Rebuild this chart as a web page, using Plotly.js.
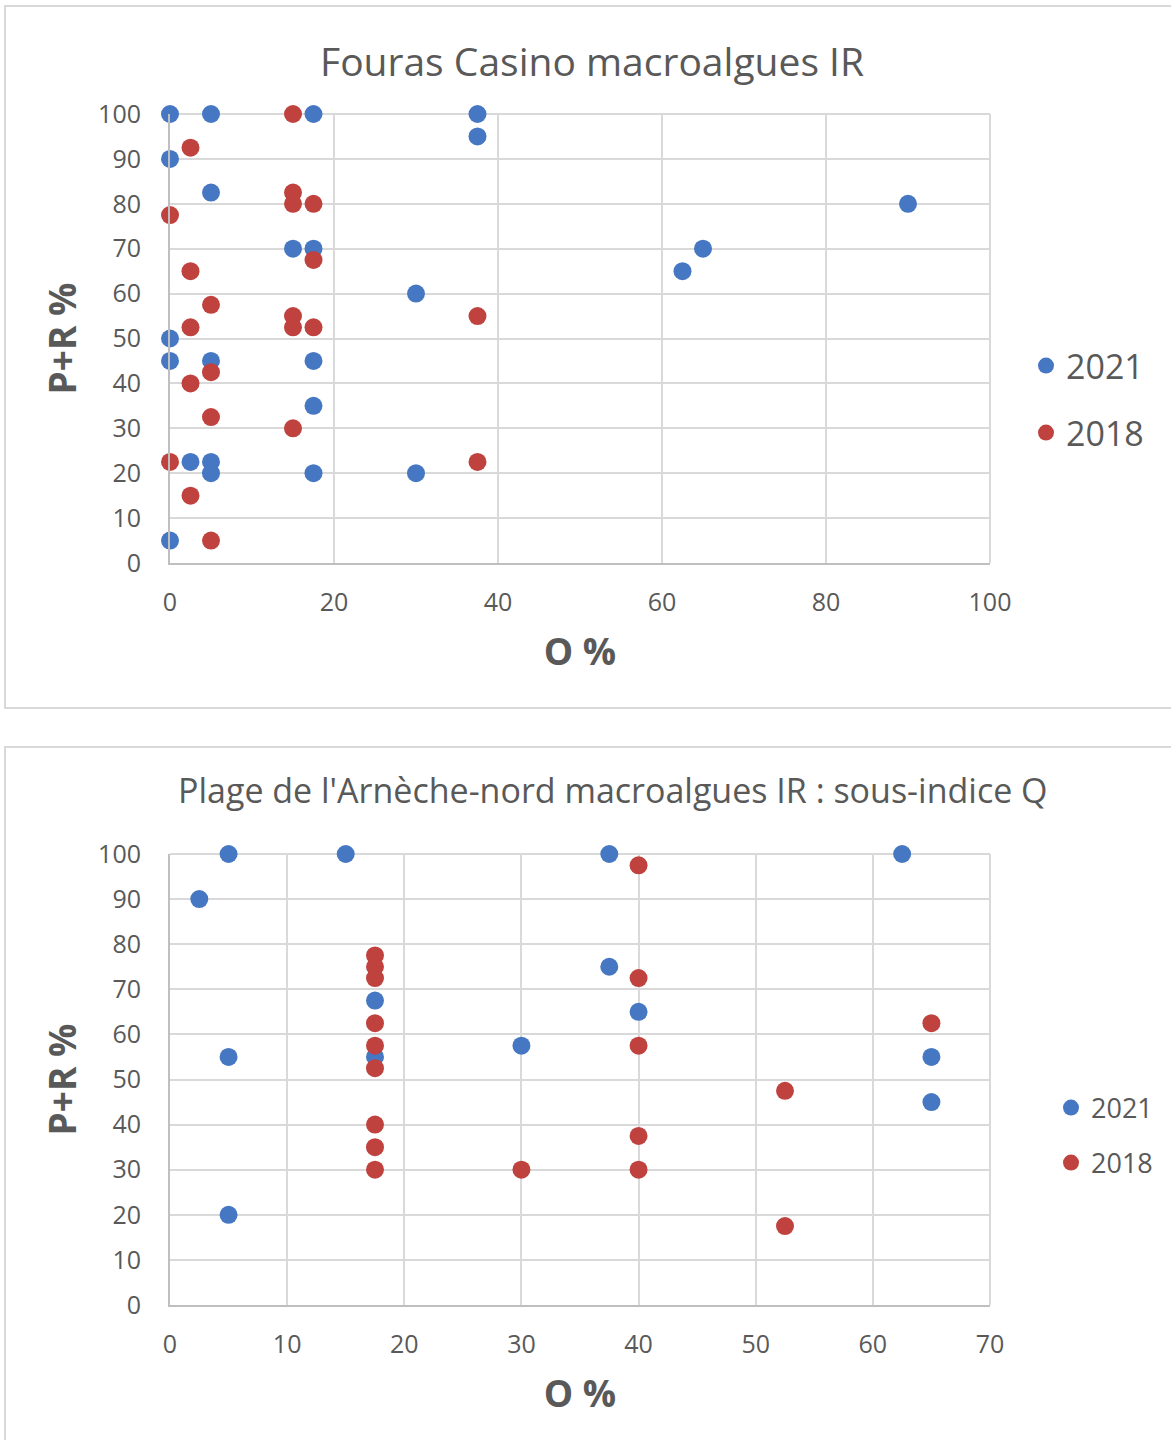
<!DOCTYPE html>
<html>
<head>
<meta charset="utf-8">
<script src="https://cdn.plot.ly/plotly-3.0.1.min.js"></script>
<style>html,body{margin:0;padding:0;background:#fff;}#chart{width:1171px;height:1440px;}</style>
</head>
<body>
<div id="chart"></div>
<script>
// Chart 1: Fouras Casino
const top2021X = [0, 5, 17.5, 37.5, 37.5, 0, 5, 15, 17.5, 30, 0, 0, 5, 17.5, 17.5, 2.5, 5, 5, 17.5, 30, 0, 90, 65, 62.5];
const top2021Y = [100, 100, 100, 100, 95, 90, 82.5, 70, 70, 60, 50, 45, 45, 45, 35, 22.5, 22.5, 20, 20, 20, 5, 80, 70, 65];
const top2018X = [15, 2.5, 15, 15, 17.5, 0, 17.5, 2.5, 5, 37.5, 15, 15, 2.5, 17.5, 5, 2.5, 5, 15, 0, 37.5, 2.5, 5];
const top2018Y = [100, 92.5, 82.5, 80, 80, 77.5, 67.5, 65, 57.5, 55, 55, 52.5, 52.5, 52.5, 42.5, 40, 32.5, 30, 22.5, 22.5, 15, 5];
// Chart 2: Plage de l'Arnèche-nord
const bot2021X = [5, 15, 2.5, 17.5, 17.5, 5, 30, 5, 37.5, 62.5, 37.5, 40, 65, 65];
const bot2021Y = [100, 100, 90, 67.5, 55, 55, 57.5, 20, 100, 100, 75, 65, 55, 45];
const bot2018X = [17.5, 17.5, 17.5, 17.5, 17.5, 17.5, 17.5, 17.5, 17.5, 30, 40, 40, 40, 40, 40, 52.5, 52.5, 65];
const bot2018Y = [77.5, 75, 72.5, 62.5, 57.5, 52.5, 40, 35, 30, 30, 97.5, 72.5, 57.5, 37.5, 30, 47.5, 17.5, 62.5];

const titles = ["Fouras Casino macroalgues IR", "Plage de l'Arnèche-nord macroalgues IR : sous-indice Q"];
const seriesNames = ["2021", "2018"];
const xTitle = "O %";
const yTitle = "P+R %";

const BLUE = '#4677c3';
const RED = '#c0423f';
const FONT = 'Open Sans, sans-serif';
const TXT = '#595959';
const W = 1171, H = 1440;
const px = v => v / W;
const py = v => 1 - v / H;

const mk = (c) => ({color: c, size: 18, line: {width: 0}});
const data = [
  {x: top2021X, y: top2021Y, name: seriesNames[0], type: 'scatter', mode: 'markers', marker: mk(BLUE), xaxis: 'x', yaxis: 'y', legend: 'legend', cliponaxis: false},
  {x: top2018X, y: top2018Y, name: seriesNames[1], type: 'scatter', mode: 'markers', marker: mk(RED), xaxis: 'x', yaxis: 'y', legend: 'legend2', cliponaxis: false},
  {x: bot2021X, y: bot2021Y, name: seriesNames[0], type: 'scatter', mode: 'markers', marker: mk(BLUE), xaxis: 'x2', yaxis: 'y2', legend: 'legend3', cliponaxis: false},
  {x: bot2018X, y: bot2018Y, name: seriesNames[1], type: 'scatter', mode: 'markers', marker: mk(RED), xaxis: 'x2', yaxis: 'y2', legend: 'legend4', cliponaxis: false}
];

const axBase = {
  showgrid: true, gridcolor: '#d9d9d9', gridwidth: 2,
  showline: true, linecolor: '#bfbfbf', linewidth: 2,
  zeroline: false, ticks: '', fixedrange: true,
  tickfont: {family: FONT, size: 25, color: TXT}
};
const axTitleFont = {family: FONT, size: 37, color: TXT, weight: 'bold'};

const legBase = (x, y, size) => ({x: px(x), y: py(y), xanchor: 'left', yanchor: 'middle',
  font: {family: FONT, size: size, color: TXT}, bgcolor: 'rgba(0,0,0,0)', itemsizing: 'trace',
  tracegroupgap: 0, itemwidth: 30});

const gridEdge = (xr, yr) => ([
  {type: 'line', xref: xr + ' domain', yref: yr + ' domain', x0: 0, x1: 1, y0: 1, y1: 1, line: {color: '#d9d9d9', width: 2}, layer: 'below'},
  {type: 'line', xref: xr + ' domain', yref: yr + ' domain', x0: 1, x1: 1, y0: 0, y1: 1, line: {color: '#d9d9d9', width: 2}, layer: 'below'}
]);

const layout = {
  width: W, height: H,
  margin: {l: 0, r: 0, t: 0, b: 0},
  paper_bgcolor: '#fff', plot_bgcolor: '#fff',
  showlegend: true,
  xaxis: Object.assign({}, axBase, {domain: [px(170), px(990)], range: [0, 100], dtick: 20, tick0: 0, anchor: 'y',
    ticklabelstandoff: 16,
    title: {text: xTitle, font: axTitleFont, standoff: 22}}),
  yaxis: Object.assign({}, axBase, {domain: [py(563), py(114)], range: [0, 100], dtick: 10, tick0: 0, anchor: 'x',
    ticklabelstandoff: 22,
    title: {text: yTitle, font: axTitleFont, standoff: 10}}),
  xaxis2: Object.assign({}, axBase, {domain: [px(170), px(990)], range: [0, 70], dtick: 10, tick0: 0, anchor: 'y2',
    ticklabelstandoff: 16,
    title: {text: xTitle, font: axTitleFont, standoff: 22}}),
  yaxis2: Object.assign({}, axBase, {domain: [py(1305), py(854)], range: [0, 100], dtick: 10, tick0: 0, anchor: 'x2',
    ticklabelstandoff: 22,
    title: {text: yTitle, font: axTitleFont, standoff: 10}}),
  legend: legBase(1026, 366, 34),
  legend2: legBase(1026, 433, 34),
  legend3: legBase(1051, 1108, 27),
  legend4: legBase(1051, 1163, 27),
  annotations: [
    {text: titles[0], xref: 'paper', yref: 'paper', x: px(592), y: py(61), xanchor: 'center', yanchor: 'middle', showarrow: false,
      font: {family: FONT, size: 39, color: TXT}},
    {text: titles[1], xref: 'paper', yref: 'paper', x: px(613), y: py(790), xanchor: 'center', yanchor: 'middle', showarrow: false,
      font: {family: FONT, size: 34, color: TXT}}
  ],
  shapes: [
    {type: 'rect', xref: 'paper', yref: 'paper', x0: px(5), x1: px(1180), y0: py(708), y1: py(6), line: {color: '#d9d9d9', width: 2}, fillcolor: 'rgba(0,0,0,0)', layer: 'below'},
    {type: 'rect', xref: 'paper', yref: 'paper', x0: px(5), x1: px(1180), y0: py(1450), y1: py(747), line: {color: '#d9d9d9', width: 2}, fillcolor: 'rgba(0,0,0,0)', layer: 'below'}
  ].concat(gridEdge('x', 'y'), gridEdge('x2', 'y2'))
};

Plotly.newPlot('chart', data, layout, {displayModeBar: false, staticPlot: true});
</script>
</body>
</html>
